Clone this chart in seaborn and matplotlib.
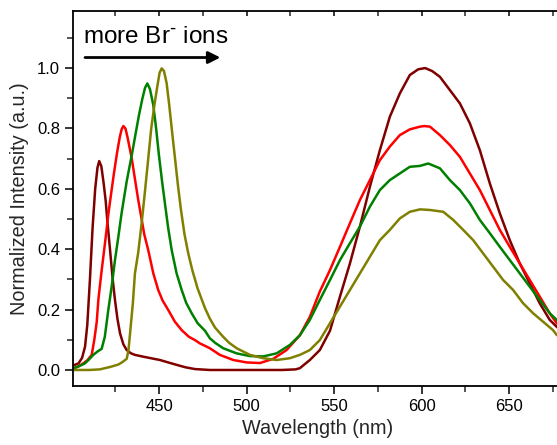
import matplotlib
matplotlib.use("Agg")
import matplotlib.pyplot as plt
import matplotlib.ticker as mticker
import numpy as np
import pandas as pd
import seaborn as sns

# --- spectra (wavelength in nm, normalized intensity) ---
wl_1 = [401, 404, 406, 407.7, 409, 410.5, 412, 413.5, 414.8, 415.8, 417, 418.3,
        419.5, 420.5, 422, 423.5, 424.8, 426.2, 427.7, 429.6, 431.5, 434, 436.2,
        441, 450.5, 455.2, 460, 465, 470.5, 479, 490, 500, 510, 520, 528, 530.4,
        536.1, 541.8, 547.6, 553.3, 559, 564.7, 570.4, 576.1, 581.8, 587.5, 593.2,
        598, 602, 606, 610.4, 616.1, 621.8, 627.5, 633.2, 638.9, 644.6, 650.3,
        656, 661.7, 667.4, 673.1, 677.1, 680]
int_1 = [0.015, 0.022, 0.04, 0.077, 0.15, 0.3, 0.47, 0.6, 0.67, 0.692, 0.675, 0.62,
         0.56, 0.49, 0.397, 0.3, 0.232, 0.17, 0.121, 0.085, 0.066, 0.055, 0.05,
         0.044, 0.033, 0.025, 0.017, 0.009, 0.003, 0.0, 0.0, 0.0, 0.0, 0.0, 0.002, 0.006,
         0.033, 0.066, 0.13, 0.243, 0.353, 0.475, 0.607, 0.728, 0.839, 0.916, 0.977,
         0.996, 1.0, 0.99, 0.971, 0.927, 0.883, 0.817, 0.728, 0.618, 0.519, 0.43,
         0.353, 0.287, 0.221, 0.166, 0.143, 0.13]

wl_2 = [401, 404, 406.7, 409, 411.5, 413, 414.4, 415.3, 417.2, 419.1, 421, 422.5,
        424.3, 426, 427.5, 428.6, 429.6, 430.8, 432, 433.2, 434.4, 436, 438.1,
        439.7, 441.5, 443.8, 446.7, 449.5, 452, 455.2, 459, 462.9, 467, 470.5,
        473.3, 476.2, 479, 484.7, 492.4, 500, 507.6, 515.2, 522.8, 530.4, 536.1,
        541.8, 547.6, 553.3, 559, 564.7, 570.4, 576.1, 581.8, 587.5, 593.2, 599,
        601.5, 604.7, 610.4, 616.1, 621.8, 627.5, 633.2, 638.9, 644.6, 650.3, 656,
        661.7, 667.4, 673.1, 677.1, 680]
int_2 = [0.005, 0.012, 0.022, 0.032, 0.05, 0.1, 0.16, 0.232, 0.33, 0.42, 0.515, 0.58,
         0.655, 0.72, 0.77, 0.797, 0.808, 0.8, 0.77, 0.735, 0.7, 0.64, 0.563,
         0.51, 0.45, 0.397, 0.32, 0.265, 0.23, 0.199, 0.16, 0.132, 0.11, 0.099,
         0.088, 0.08, 0.072, 0.05, 0.033, 0.025, 0.023, 0.037, 0.066, 0.115, 0.176,
         0.26, 0.331, 0.408, 0.486, 0.563, 0.629, 0.695, 0.74, 0.778, 0.797, 0.806,
         0.808, 0.806, 0.778, 0.745, 0.706, 0.651, 0.596, 0.53, 0.464, 0.408, 0.353,
         0.298, 0.243, 0.188, 0.155, 0.14]

wl_3 = [401, 404, 407.7, 410, 412.4, 415, 417.2, 419, 421, 423, 424.8, 426.7, 428.6,
        431.5, 434.4, 436.5, 438.5, 440.5, 442, 443.3, 444.8, 446.7, 448.3, 449.9,
        451.8, 453.6, 455.2, 457.2, 460, 462.9, 465.5, 468.6, 472, 476.2, 479, 482,
        486.6, 494.3, 501.9, 509.5, 517.1, 524.7, 530.4, 536.1, 541.8, 547.6,
        553.3, 559, 564.7, 570.4, 576.1, 581.8, 587.5, 593.2, 599, 603.7, 610.4,
        616.1, 621.8, 627.5, 633.2, 638.9, 644.6, 650.3, 656, 661.7, 667.4, 673.1,
        677.1, 680]
int_3 = [0.005, 0.012, 0.022, 0.035, 0.05, 0.062, 0.07, 0.11, 0.199, 0.28, 0.364,
         0.44, 0.52, 0.625, 0.712, 0.78, 0.844, 0.9, 0.935, 0.949, 0.93, 0.877, 0.8,
         0.712, 0.62, 0.54, 0.47, 0.397, 0.32, 0.265, 0.222, 0.188, 0.155, 0.13,
         0.105, 0.09, 0.072, 0.055, 0.046, 0.045, 0.055, 0.083, 0.115, 0.166, 0.232,
         0.298, 0.364, 0.42, 0.475, 0.541, 0.596, 0.629, 0.651, 0.673, 0.676, 0.684,
         0.668, 0.629, 0.596, 0.552, 0.497, 0.453, 0.408, 0.364, 0.32, 0.276, 0.232,
         0.188, 0.166, 0.15]

wl_4 = [401, 410, 416.2, 419.1, 422, 426.7, 429, 431.5, 432.5, 433.4, 435, 436.2,
        438.1, 440.1, 441.9, 443.8, 445.5, 447.3, 449, 450.3, 451.5, 452.8, 454.3,
        455.8, 457.4, 459.1, 460.8, 462.5, 464.5, 466.7, 469, 472, 476.2, 479, 482,
        486.6, 490, 494.3, 501.9, 509.5, 517.1, 524.7, 530.4, 536.1, 541.8, 547.6,
        553.3, 559, 564.7, 570.4, 576.1, 581.8, 587.5, 593.2, 599, 604.7, 612.3,
        618, 623.7, 629.4, 635.1, 640.8, 646.5, 652.2, 657.9, 663.6, 669.3, 675,
        677.1, 680]
int_4 = [0.0, 0.0, 0.002, 0.006, 0.01, 0.018, 0.026, 0.037, 0.065, 0.12, 0.22, 0.32,
         0.39, 0.49, 0.59, 0.7, 0.8, 0.877, 0.94, 0.985, 0.999, 0.99, 0.95, 0.877,
         0.79, 0.7, 0.61, 0.53, 0.45, 0.385, 0.33, 0.27, 0.205, 0.17, 0.14, 0.11, 0.09,
         0.072, 0.05, 0.039, 0.033, 0.039, 0.05, 0.066, 0.099, 0.155, 0.21, 0.265,
         0.32, 0.375, 0.43, 0.464, 0.502, 0.524, 0.532, 0.53, 0.524, 0.497, 0.464,
         0.43, 0.386, 0.342, 0.298, 0.265, 0.221, 0.188, 0.16, 0.132, 0.116, 0.105]

samples = ["1", "2", "3", "4"]
line_colors = ["#800000", "#FF0000", "#008000", "#808000"]

frames = []
for name, wl, val in zip(samples, [wl_1, wl_2, wl_3, wl_4], [int_1, int_2, int_3, int_4]):
    frames.append(pd.DataFrame({"wavelength": wl, "intensity": val, "sample": name}))
df = pd.concat(frames, ignore_index=True)

sns.set_style("ticks")
plt.rcParams["font.family"] = ["Liberation Sans", "DejaVu Sans"]
plt.rcParams["mathtext.default"] = "regular"

fig = plt.figure(figsize=(5.57, 4.45), dpi=100)
ax = fig.add_axes([0.1316, 0.1333, 0.877, 0.8426])

sns.lineplot(data=df, x="wavelength", y="intensity", hue="sample",
             palette=line_colors, estimator=None, linewidth=1.8,
             legend=False, ax=ax)

ax.set_xlim(401, 680)
ax.set_ylim(-0.052, 1.19)

ax.xaxis.set_major_locator(mticker.MultipleLocator(50))
ax.xaxis.set_minor_locator(mticker.MultipleLocator(25))
ax.yaxis.set_major_locator(mticker.MultipleLocator(0.2))
ax.yaxis.set_minor_locator(mticker.MultipleLocator(0.1))
ax.yaxis.set_major_formatter(mticker.FormatStrFormatter("%.1f"))

ax.tick_params(axis="both", which="major", direction="out", length=6, width=1.1,
               labelsize=12, colors="black")
ax.tick_params(axis="both", which="minor", direction="out", length=4, width=1.1)
ax.tick_params(axis="x", which="both", top=True)
for spine in ax.spines.values():
    spine.set_linewidth(1.3)
    spine.set_color("black")

# top ticks point inward
for t in ax.xaxis.get_major_ticks() + ax.xaxis.get_minor_ticks():
    t.tick2line.set_marker(3)
    t.tick2line.set_markersize(3.5)

ax.set_xlabel("Wavelength (nm)", fontsize=14.3, labelpad=4)
ax.set_ylabel("Normalized Intensity (a.u.)", fontsize=14.3, labelpad=6)

ax.text(406.7, 1.082, r"more Br$^{\text{-}}$ ions", fontsize=17.5, ha="left",
        va="baseline", color="black")
ax.annotate("", xy=(485, 1.035), xytext=(407.7, 1.035),
            arrowprops=dict(arrowstyle="-|>", color="black", lw=2,
                            mutation_scale=18, shrinkA=0, shrinkB=0))

fig.savefig("out.png", dpi=100)
